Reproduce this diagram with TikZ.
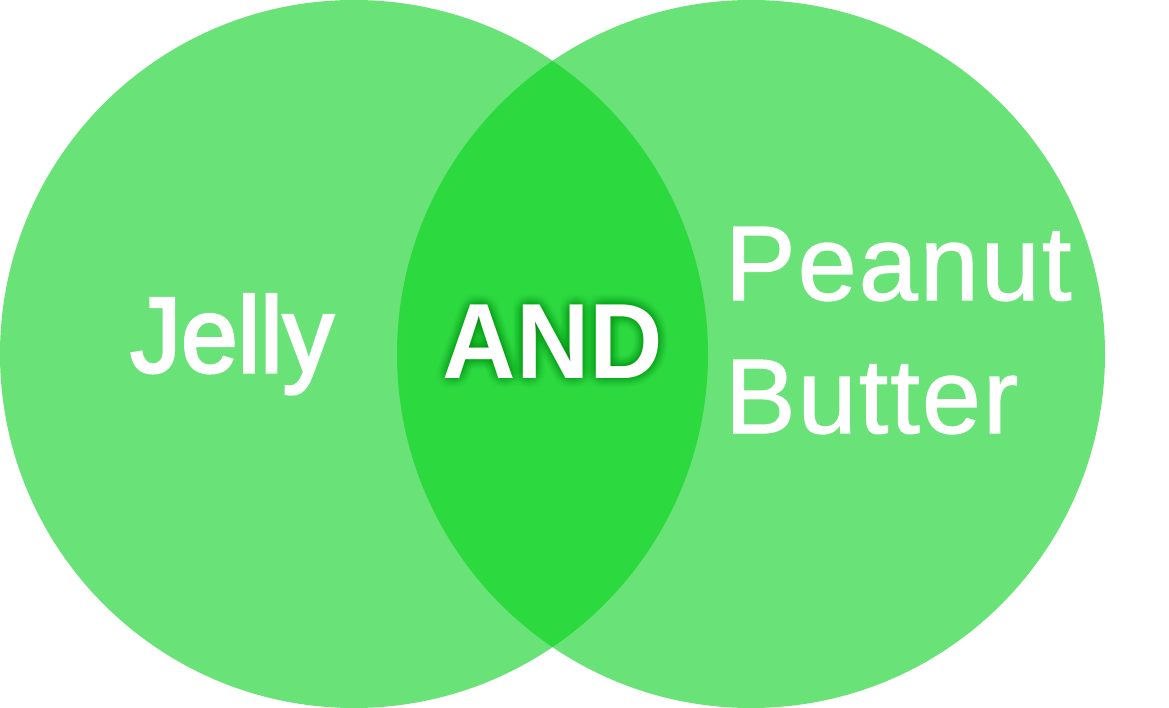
\documentclass[tikz,border=0pt]{standalone}
\usepackage{fontspec}
\setmainfont{Liberation Sans}
\newfontfamily\medfont[FakeBold=1.2,LetterSpace=2]{Liberation Sans}
\newfontfamily\semifont[FakeBold=2.8]{Liberation Sans}
\definecolor{lightgreen}{HTML}{69E378}
\definecolor{darkgreen}{HTML}{2CD93F}
\definecolor{glowgreen}{HTML}{0B6E18}
\newcommand{\andword}{\scalebox{0.95}[1]{AND}}
\tikzset{
  label/.style={inner sep=0pt, outer sep=0pt, text=white, anchor=base},
  bigbold/.style={font=\fontsize{107}{107}\selectfont\bfseries},
  bigsemi/.style={font=\fontsize{107}{107}\selectfont\semifont},
  bigreg/.style={font=\fontsize{106}{106}\selectfont\medfont},
  andglow/.style={label, bigbold, text=glowgreen, opacity=0.01}
}
\begin{document}
\begin{tikzpicture}[x=1pt,y=-1pt]
\useasboundingbox (0,0) rectangle (1169,708);
\fill[lightgreen] (354,354) circle (354pt);
\fill[lightgreen] (751,354) circle (354pt);
\begin{scope}
  \clip (354,354) circle (354pt);
  \fill[darkgreen] (751,354) circle (354pt);
\end{scope}
\node[label, bigsemi] (jelly) at (232,372) {\scalebox{0.95}[1]{Jelly}};
\foreach \a in {0,22.5,...,337.5} {
  \foreach \r in {2,4,6,8,10} {
    \path (553,378) ++(\a:\r pt) node[andglow] {\andword};
  }
}
\node[label, bigbold] (and) at (553,378) {\andword};
\node[label, bigreg, anchor=base west] (peanut) at (725,300) {Peanut};
\node[label, bigreg, anchor=base west] (butter) at (725,433) {Butter};
\end{tikzpicture}
\end{document}
